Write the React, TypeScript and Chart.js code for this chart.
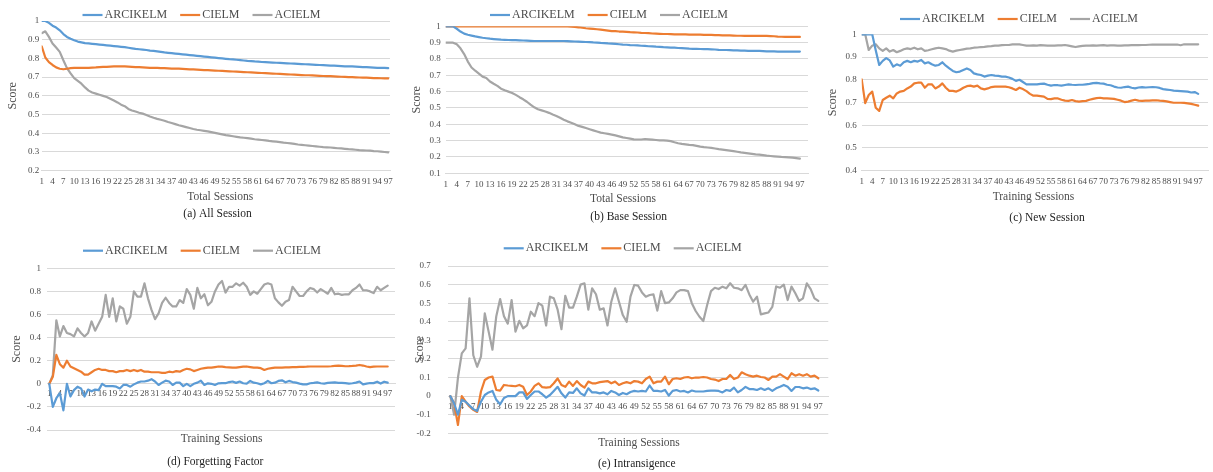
import { useEffect, useRef } from "react";
import { Chart, registerables } from "chart.js";

Chart.register(...registerables);

const FONT_FAMILY = '"Liberation Serif", "Times New Roman", serif';
const TEXT_COLOR = "#4D4D4D";
const CAPTION_COLOR = "#1F1F1F";
const GRID_COLOR = "#D9D9D9";

// Sessions on the x axis, and the ones that carry a label (every third).
const SESSIONS = Array.from({ length: 97 }, (_, i) => i + 1);
const SESSION_TICKS = [1, 4, 7, 10, 13, 16, 19, 22, 25, 28, 31, 34, 37, 40, 43, 46, 49, 52, 55, 58, 61, 64, 67, 70, 73, 76, 79, 82, 85, 88, 91, 94, 97];

const SERIES_NAMES = ["ARCIKELM", "CIELM", "ACIELM"];
const SERIES_COLORS = ["#5B9BD5", "#ED7D31", "#A5A5A5"];

// (a) All Session
const ALL_ARCIKELM = [1.0, 1.0, 0.99, 0.975, 0.965, 0.95, 0.93, 0.915, 0.905, 0.897, 0.89, 0.886, 0.882, 0.88, 0.878, 0.876, 0.874, 0.872, 0.87, 0.868, 0.866, 0.864, 0.862, 0.86, 0.857, 0.854, 0.851, 0.849, 0.847, 0.845, 0.842, 0.84, 0.838, 0.835, 0.832, 0.83, 0.828, 0.826, 0.824, 0.822, 0.82, 0.818, 0.816, 0.814, 0.812, 0.81, 0.808, 0.806, 0.804, 0.802, 0.8, 0.798, 0.796, 0.795, 0.793, 0.791, 0.789, 0.787, 0.786, 0.784, 0.783, 0.781, 0.78, 0.779, 0.778, 0.777, 0.776, 0.775, 0.774, 0.773, 0.772, 0.771, 0.77, 0.769, 0.768, 0.767, 0.766, 0.765, 0.764, 0.763, 0.762, 0.761, 0.76, 0.759, 0.758, 0.757, 0.757, 0.756, 0.755, 0.754, 0.753, 0.752, 0.751, 0.75, 0.749, 0.749, 0.748];
const ALL_CIELM = [0.865, 0.805, 0.78, 0.765, 0.752, 0.745, 0.742, 0.745, 0.748, 0.75, 0.75, 0.749, 0.75, 0.75, 0.751, 0.752, 0.754, 0.755, 0.755, 0.756, 0.757, 0.758, 0.758, 0.757, 0.756, 0.755, 0.754, 0.753, 0.752, 0.751, 0.75, 0.749, 0.749, 0.748, 0.748, 0.747, 0.746, 0.745, 0.745, 0.744, 0.743, 0.742, 0.741, 0.74, 0.739, 0.738, 0.737, 0.736, 0.735, 0.734, 0.733, 0.732, 0.731, 0.73, 0.729, 0.728, 0.727, 0.726, 0.725, 0.724, 0.723, 0.722, 0.721, 0.72, 0.719, 0.718, 0.717, 0.716, 0.715, 0.714, 0.713, 0.712, 0.711, 0.71, 0.71, 0.709, 0.708, 0.707, 0.706, 0.705, 0.705, 0.704, 0.703, 0.702, 0.701, 0.7, 0.7, 0.699, 0.698, 0.697, 0.697, 0.696, 0.695, 0.695, 0.694, 0.693, 0.693];
const ALL_ACIELM = [0.935, 0.945, 0.915, 0.88, 0.858, 0.835, 0.79, 0.748, 0.72, 0.695, 0.68, 0.665, 0.645, 0.628, 0.618, 0.612, 0.606, 0.6, 0.594, 0.585, 0.575, 0.565, 0.553, 0.545, 0.53, 0.522, 0.516, 0.51, 0.505, 0.498, 0.49, 0.483, 0.477, 0.472, 0.467, 0.46, 0.455, 0.449, 0.443, 0.438, 0.433, 0.428, 0.423, 0.419, 0.416, 0.413, 0.41, 0.406, 0.402, 0.398, 0.394, 0.39, 0.387, 0.384, 0.381, 0.378, 0.376, 0.374, 0.371, 0.368, 0.366, 0.364, 0.362, 0.359, 0.357, 0.355, 0.353, 0.35, 0.348, 0.346, 0.343, 0.34, 0.338, 0.336, 0.334, 0.332, 0.33, 0.328, 0.326, 0.325, 0.324, 0.322, 0.32, 0.319, 0.317, 0.315, 0.314, 0.312, 0.31, 0.309, 0.308, 0.307, 0.305, 0.304, 0.302, 0.3, 0.298];

// (b) Base Session
const BASE_ARCIKELM = [1.0, 1.0, 1.0, 0.985, 0.968, 0.955, 0.948, 0.943, 0.938, 0.934, 0.93, 0.927, 0.924, 0.922, 0.92, 0.918, 0.917, 0.916, 0.915, 0.915, 0.914, 0.913, 0.912, 0.911, 0.91, 0.91, 0.91, 0.91, 0.91, 0.91, 0.91, 0.91, 0.91, 0.909, 0.908, 0.907, 0.906, 0.905, 0.904, 0.903, 0.901, 0.9, 0.898, 0.897, 0.895, 0.894, 0.892, 0.89, 0.888, 0.887, 0.885, 0.884, 0.883, 0.881, 0.88, 0.878, 0.877, 0.875, 0.874, 0.872, 0.871, 0.87, 0.869, 0.867, 0.866, 0.865, 0.863, 0.862, 0.862, 0.861, 0.86, 0.86, 0.859, 0.858, 0.856, 0.855, 0.855, 0.854, 0.853, 0.852, 0.851, 0.851, 0.85, 0.85, 0.849, 0.849, 0.848, 0.847, 0.846, 0.846, 0.845, 0.845, 0.845, 0.845, 0.845, 0.845, 0.845];
const BASE_CIELM = [1.0, 1.0, 1.0, 1.0, 1.0, 1.0, 1.0, 1.0, 1.0, 1.0, 1.0, 1.0, 1.0, 1.0, 1.0, 1.0, 1.0, 1.0, 1.0, 1.0, 1.0, 1.0, 1.0, 1.0, 1.0, 1.0, 1.0, 1.0, 1.0, 1.0, 1.0, 1.0, 1.0, 1.0, 0.998, 0.996, 0.994, 0.991, 0.988, 0.986, 0.984, 0.982, 0.98, 0.977, 0.974, 0.971, 0.97, 0.968, 0.967, 0.966, 0.964, 0.963, 0.962, 0.96, 0.959, 0.958, 0.956, 0.955, 0.954, 0.953, 0.953, 0.952, 0.951, 0.951, 0.95, 0.95, 0.949, 0.949, 0.949, 0.949, 0.948, 0.948, 0.947, 0.946, 0.946, 0.945, 0.944, 0.944, 0.943, 0.942, 0.942, 0.941, 0.941, 0.941, 0.941, 0.941, 0.941, 0.941, 0.94, 0.939, 0.937, 0.936, 0.935, 0.935, 0.935, 0.935, 0.935];
const BASE_ACIELM = [0.9, 0.9, 0.9, 0.89, 0.865, 0.83, 0.784, 0.748, 0.728, 0.71, 0.692, 0.684, 0.662, 0.648, 0.635, 0.618, 0.608, 0.6, 0.592, 0.58, 0.566, 0.553, 0.538, 0.52, 0.504, 0.492, 0.485, 0.478, 0.47, 0.46, 0.451, 0.44, 0.428, 0.418, 0.41, 0.4, 0.39, 0.384, 0.377, 0.37, 0.363, 0.356, 0.349, 0.345, 0.341, 0.337, 0.332, 0.326, 0.32, 0.316, 0.312, 0.308, 0.307, 0.307, 0.31, 0.308, 0.306, 0.304, 0.302, 0.301, 0.3, 0.297, 0.29, 0.284, 0.28, 0.277, 0.274, 0.272, 0.268, 0.263, 0.26, 0.258, 0.256, 0.252, 0.248, 0.245, 0.242, 0.239, 0.236, 0.232, 0.228, 0.225, 0.222, 0.219, 0.216, 0.214, 0.211, 0.208, 0.206, 0.204, 0.202, 0.2, 0.199, 0.198, 0.196, 0.193, 0.19];

// (c) New Session
const NEW_ARCIKELM = [1.0, 1.0, 1.0, 1.0, 0.93, 0.865, 0.883, 0.895, 0.885, 0.858, 0.868, 0.862, 0.877, 0.883, 0.877, 0.883, 0.88, 0.887, 0.872, 0.877, 0.868, 0.862, 0.865, 0.877, 0.862, 0.85, 0.839, 0.833, 0.836, 0.843, 0.85, 0.843, 0.828, 0.824, 0.821, 0.814, 0.818, 0.821, 0.818, 0.817, 0.814, 0.814, 0.81, 0.804, 0.795, 0.8, 0.79, 0.78, 0.78, 0.78, 0.78, 0.782, 0.783, 0.778, 0.774, 0.777, 0.776, 0.774, 0.777, 0.78, 0.778, 0.777, 0.778, 0.778, 0.78, 0.782, 0.785, 0.786, 0.784, 0.783, 0.778, 0.776, 0.77, 0.766, 0.765, 0.768, 0.77, 0.765, 0.762, 0.766, 0.768, 0.766, 0.767, 0.768, 0.767, 0.764, 0.759, 0.757, 0.755, 0.752, 0.751, 0.75, 0.749, 0.748, 0.744, 0.746, 0.738];
const NEW_CIELM = [0.802, 0.697, 0.733, 0.748, 0.677, 0.663, 0.711, 0.721, 0.73, 0.718, 0.74, 0.748, 0.751, 0.762, 0.77, 0.784, 0.787, 0.787, 0.765, 0.78, 0.78, 0.762, 0.77, 0.784, 0.765, 0.751, 0.751, 0.748, 0.755, 0.765, 0.772, 0.774, 0.77, 0.774, 0.762, 0.758, 0.762, 0.768, 0.77, 0.77, 0.77, 0.77, 0.767, 0.762, 0.755, 0.765, 0.759, 0.75, 0.738, 0.73, 0.73, 0.728, 0.726, 0.716, 0.715, 0.718, 0.718, 0.712, 0.708, 0.707, 0.711, 0.706, 0.704, 0.706, 0.707, 0.712, 0.716, 0.719, 0.721, 0.718, 0.718, 0.717, 0.716, 0.712, 0.708, 0.702, 0.704, 0.708, 0.712, 0.708, 0.707, 0.708, 0.708, 0.709, 0.71, 0.708, 0.707, 0.705, 0.702, 0.699, 0.699, 0.699, 0.698, 0.696, 0.694, 0.69, 0.686];
const NEW_ACIELM = [1.0, 1.0, 0.931, 0.95, 0.956, 0.938, 0.927, 0.938, 0.924, 0.931, 0.921, 0.927, 0.934, 0.938, 0.935, 0.941, 0.934, 0.938, 0.927, 0.93, 0.934, 0.938, 0.941, 0.938, 0.935, 0.928, 0.924, 0.928, 0.931, 0.934, 0.937, 0.938, 0.941, 0.942, 0.944, 0.945, 0.947, 0.948, 0.95, 0.95, 0.952, 0.953, 0.953, 0.956, 0.956, 0.956, 0.953, 0.95, 0.95, 0.951, 0.95, 0.952, 0.951, 0.95, 0.95, 0.95, 0.951, 0.951, 0.953, 0.95, 0.947, 0.944, 0.947, 0.949, 0.95, 0.95, 0.951, 0.95, 0.951, 0.952, 0.95, 0.951, 0.951, 0.95, 0.95, 0.951, 0.951, 0.952, 0.952, 0.952, 0.953, 0.953, 0.954, 0.955, 0.955, 0.955, 0.955, 0.955, 0.955, 0.955, 0.955, 0.952, 0.956, 0.956, 0.956, 0.956, 0.956];

// (d) Forgetting Factor
const FORGET_ARCIKELM = [0, -0.2, -0.125, -0.08, -0.23, 0, -0.11, -0.055, -0.025, -0.04, -0.11, -0.05, -0.065, -0.05, -0.055, 0, -0.02, -0.02, -0.02, -0.025, -0.04, -0.01, -0.01, -0.025, -0.005, 0.01, 0.02, 0.02, 0.027, 0.04, 0.02, -0.01, 0.01, 0.027, 0.02, -0.01, 0.01, 0.01, -0.02, 0, -0.02, 0, 0.01, 0.027, -0.01, 0.004, 0, -0.01, 0.004, 0.005, 0.005, 0.015, 0.02, 0.008, 0.02, 0.005, 0.002, 0.025, 0.01, 0.005, -0.005, 0.005, 0.025, 0.005, 0.01, 0.025, 0.03, 0.013, 0.025, 0.015, 0.01, 0.002, -0.005, -0.005, 0.005, 0.008, 0.012, 0.005, 0.002, 0.008, 0.01, 0.012, 0.008, 0.008, 0.006, 0.002, 0.005, 0.01, 0.02, -0.005, 0.002, 0.007, 0.006, 0.018, 0.002, 0.018, 0.01];
const FORGET_CIELM = [0, 0.06, 0.25, 0.17, 0.14, 0.2, 0.15, 0.135, 0.12, 0.105, 0.08, 0.08, 0.1, 0.12, 0.13, 0.12, 0.12, 0.11, 0.11, 0.1, 0.11, 0.11, 0.12, 0.11, 0.12, 0.11, 0.12, 0.105, 0.105, 0.1, 0.1, 0.1, 0.095, 0.095, 0.105, 0.1, 0.11, 0.105, 0.12, 0.13, 0.125, 0.11, 0.12, 0.13, 0.135, 0.14, 0.14, 0.145, 0.15, 0.148, 0.145, 0.143, 0.14, 0.14, 0.145, 0.148, 0.15, 0.145, 0.14, 0.14, 0.135, 0.12, 0.13, 0.135, 0.14, 0.14, 0.14, 0.142, 0.143, 0.145, 0.145, 0.146, 0.147, 0.148, 0.15, 0.15, 0.15, 0.15, 0.15, 0.15, 0.152, 0.155, 0.157, 0.155, 0.152, 0.153, 0.155, 0.158, 0.163, 0.158, 0.15, 0.145, 0.148, 0.15, 0.15, 0.15, 0.15];
const FORGET_ACIELM = [0, 0.075, 0.55, 0.41, 0.5, 0.44, 0.43, 0.41, 0.48, 0.44, 0.41, 0.44, 0.54, 0.46, 0.52, 0.58, 0.77, 0.58, 0.74, 0.54, 0.67, 0.65, 0.52, 0.58, 0.8, 0.755, 0.755, 0.87, 0.74, 0.64, 0.56, 0.61, 0.7, 0.745, 0.7, 0.67, 0.67, 0.725, 0.7, 0.82, 0.77, 0.65, 0.83, 0.74, 0.775, 0.68, 0.71, 0.8, 0.86, 0.89, 0.79, 0.84, 0.84, 0.87, 0.85, 0.875, 0.84, 0.77, 0.8, 0.78, 0.82, 0.86, 0.87, 0.86, 0.74, 0.705, 0.675, 0.71, 0.725, 0.84, 0.8, 0.76, 0.76, 0.8, 0.83, 0.82, 0.79, 0.82, 0.8, 0.78, 0.83, 0.775, 0.78, 0.77, 0.775, 0.775, 0.81, 0.83, 0.86, 0.81, 0.81, 0.8, 0.785, 0.84, 0.81, 0.83, 0.85];

// (e) Intransigence
const INTRANS_ARCIKELM = [0, -0.04, -0.1, -0.02, -0.03, -0.05, -0.07, -0.08, -0.03, 0.006, 0.02, 0.028, -0.02, -0.044, -0.01, 0, 0, 0, 0.02, 0.02, -0.015, 0.006, 0.025, 0.025, 0.01, -0.008, 0.006, 0.028, 0.05, 0.015, -0.008, 0.02, 0.017, 0.042, 0.015, 0.003, 0.042, 0.02, 0.02, 0.015, 0.02, 0.01, 0.028, 0.02, 0.006, 0.017, 0.01, 0.022, 0.028, 0.025, 0.028, 0.025, 0.057, 0.028, 0.028, 0.025, 0.033, 0.003, 0.028, 0.033, 0.025, 0.028, 0.02, 0.03, 0.025, 0.025, 0.025, 0.028, 0.03, 0.03, 0.028, 0.02, 0.033, 0.028, 0.046, 0.02, 0.033, 0.05, 0.038, 0.038, 0.033, 0.042, 0.033, 0.042, 0.028, 0.042, 0.05, 0.06, 0.05, 0.028, 0.049, 0.049, 0.042, 0.046, 0.038, 0.042, 0.03];
const INTRANS_CIELM = [0, -0.04, -0.155, 0, -0.03, -0.056, -0.074, -0.085, 0.025, 0.087, 0.1, 0.105, 0.033, 0.03, 0.06, 0.057, 0.055, 0.053, 0.06, 0.05, 0.006, 0.025, 0.055, 0.069, 0.048, 0.046, 0.048, 0.069, 0.095, 0.06, 0.05, 0.078, 0.055, 0.081, 0.06, 0.046, 0.078, 0.069, 0.069, 0.075, 0.078, 0.081, 0.069, 0.078, 0.06, 0.069, 0.075, 0.069, 0.081, 0.078, 0.069, 0.092, 0.105, 0.069, 0.078, 0.078, 0.105, 0.064, 0.092, 0.096, 0.092, 0.1, 0.103, 0.096, 0.1, 0.1, 0.103, 0.1, 0.092, 0.089, 0.081, 0.092, 0.092, 0.114, 0.092, 0.1, 0.128, 0.118, 0.11, 0.105, 0.11, 0.103, 0.1, 0.087, 0.105, 0.105, 0.118, 0.105, 0.092, 0.123, 0.11, 0.118, 0.11, 0.118, 0.105, 0.11, 0.096];
const INTRANS_ACIELM = [0, -0.1, 0.1, 0.23, 0.257, 0.526, 0.22, 0.158, 0.212, 0.445, 0.347, 0.25, 0.43, 0.522, 0.43, 0.39, 0.517, 0.347, 0.405, 0.365, 0.38, 0.454, 0.43, 0.5, 0.487, 0.38, 0.535, 0.526, 0.465, 0.36, 0.54, 0.476, 0.476, 0.535, 0.6, 0.607, 0.465, 0.58, 0.548, 0.465, 0.472, 0.38, 0.508, 0.58, 0.508, 0.436, 0.4, 0.535, 0.598, 0.594, 0.558, 0.535, 0.544, 0.547, 0.46, 0.565, 0.5, 0.504, 0.526, 0.558, 0.57, 0.57, 0.565, 0.5, 0.458, 0.427, 0.404, 0.49, 0.565, 0.583, 0.576, 0.589, 0.58, 0.607, 0.583, 0.58, 0.57, 0.598, 0.547, 0.508, 0.535, 0.44, 0.445, 0.45, 0.48, 0.59, 0.583, 0.6, 0.517, 0.589, 0.553, 0.512, 0.526, 0.607, 0.576, 0.526, 0.512];

type Rect = { x: number; y: number; w: number; h: number };
type Area = { left: number; top: number; right: number; bottom: number };
type Label = { text: string; x: number; y: number };

type Panel = {
  key: string;
  series: number[][];
  box: Rect; // canvas placement on the page
  area: Area; // plot area on the page
  xMin: number;
  xMax: number;
  yMin: number;
  yMax: number;
  yStep: number;
  yTickPad: number;
  xTickPad: number;
  scoreX: number;
  zeroAxis: boolean;
  legend: { x: number; y: number };
  xTitle: Label;
  caption: Label;
};

const PANELS: Panel[] = [
  {
    key: "a",
    series: [ALL_ARCIKELM, ALL_CIELM, ALL_ACIELM],
    box: { x: 0, y: 0, w: 406, h: 230 },
    area: { left: 41.7, top: 21, right: 390, bottom: 170.7 },
    xMin: 1, xMax: 97.5, yMin: 0.2, yMax: 1, yStep: 0.1,
    yTickPad: 2.5, xTickPad: 5.6, scoreX: 12.7, zeroAxis: false,
    legend: { x: 201.5, y: 15 },
    xTitle: { text: "Total Sessions", x: 220.3, y: 197.3 },
    caption: { text: "(a) All Session", x: 217.5, y: 213.7 },
  },
  {
    key: "b",
    series: [BASE_ARCIKELM, BASE_CIELM, BASE_ACIELM],
    box: { x: 403, y: 0, w: 412, h: 230 },
    area: { left: 445.7, top: 26.3, right: 808, bottom: 173.3 },
    xMin: 1, xMax: 99.2, yMin: 0.1, yMax: 1, yStep: 0.1,
    yTickPad: 5, xTickPad: 5.6, scoreX: 417.3, zeroAxis: false,
    legend: { x: 609, y: 15 },
    xTitle: { text: "Total Sessions", x: 623, y: 199.3 },
    caption: { text: "(b) Base Session", x: 628.7, y: 216.7 },
  },
  {
    key: "c",
    series: [NEW_ARCIKELM, NEW_CIELM, NEW_ACIELM],
    box: { x: 810, y: 0, w: 403, h: 230 },
    area: { left: 861.7, top: 34.3, right: 1208, bottom: 170.7 },
    xMin: 1, xMax: 99.8, yMin: 0.4, yMax: 1, yStep: 0.1,
    yTickPad: 5, xTickPad: 5.6, scoreX: 832.7, zeroAxis: false,
    legend: { x: 1019, y: 19 },
    xTitle: { text: "Training Sessions", x: 1033.5, y: 197.3 },
    caption: { text: "(c) New Session", x: 1047, y: 218.3 },
  },
  {
    key: "d",
    series: [FORGET_ARCIKELM, FORGET_CIELM, FORGET_ACIELM],
    box: { x: 0, y: 230, w: 403, h: 242 },
    area: { left: 47, top: 268.3, right: 395, bottom: 430 },
    xMin: 0.35, xMax: 99.07, yMin: -0.4, yMax: 1, yStep: 0.2,
    yTickPad: 6, xTickPad: 4.8, scoreX: 16.7, zeroAxis: true,
    legend: { x: 202, y: 250.7 },
    xTitle: { text: "Training Sessions", x: 221.7, y: 439.3 },
    caption: { text: "(d) Forgetting Factor", x: 215.3, y: 461.7 },
  },
  {
    key: "e",
    series: [INTRANS_ARCIKELM, INTRANS_CIELM, INTRANS_ACIELM],
    box: { x: 403, y: 230, w: 430, h: 242 },
    area: { left: 448.3, top: 266, right: 828.3, bottom: 433.3 },
    xMin: 0.48, xMax: 99.6, yMin: -0.2, yMax: 0.7, yStep: 0.1,
    yTickPad: 17.5, xTickPad: 5.2, scoreX: 419.5, zeroAxis: true,
    legend: { x: 622.7, y: 248.3 },
    xTitle: { text: "Training Sessions", x: 639, y: 442.7 },
    caption: { text: "(e) Intransigence", x: 636.7, y: 464.3 },
  },
];

function font(size: number) {
  return `${size}px ${FONT_FAMILY}`;
}

function ScorePanel({ panel }: { panel: Panel }) {
  const ref = useRef<HTMLCanvasElement>(null);

  useEffect(() => {
    const canvas = ref.current;
    if (!canvas) return;
    const { box, area } = panel;
    const yAxisWidth = area.left - box.x;
    const xAxisHeight = panel.zeroAxis ? 0 : box.y + box.h - area.bottom;
    const bottomPad = panel.zeroAxis ? box.y + box.h - area.bottom : 0;
    const titleLine = 12 * 1.2;

    // Legend, x-axis title and caption, placed in page coordinates.
    const panelText = {
      id: "panelText",
      afterDraw(chart: any) {
        const ctx: CanvasRenderingContext2D = chart.ctx;
        ctx.save();
        ctx.textBaseline = "middle";
        ctx.font = font(12);
        const lineLen = 20;
        const gap = 2;
        const itemGap = 13;
        const widths = SERIES_NAMES.map((n) => ctx.measureText(n).width);
        const total =
          widths.reduce((s, w) => s + lineLen + gap + w, 0) + itemGap * (SERIES_NAMES.length - 1);
        let x = panel.legend.x - box.x - total / 2;
        const y = panel.legend.y - box.y;
        SERIES_NAMES.forEach((name, k) => {
          ctx.strokeStyle = SERIES_COLORS[k];
          ctx.lineWidth = 2.2;
          ctx.lineCap = "butt";
          ctx.beginPath();
          ctx.moveTo(x, y);
          ctx.lineTo(x + lineLen, y);
          ctx.stroke();
          x += lineLen + gap;
          ctx.fillStyle = TEXT_COLOR;
          ctx.textAlign = "left";
          ctx.fillText(name, x, y);
          x += widths[k] + itemGap;
        });
        ctx.textAlign = "center";
        ctx.fillStyle = TEXT_COLOR;
        ctx.font = font(11.5);
        ctx.fillText(panel.xTitle.text, panel.xTitle.x - box.x, panel.xTitle.y - box.y);
        ctx.fillStyle = CAPTION_COLOR;
        ctx.fillText(panel.caption.text, panel.caption.x - box.x, panel.caption.y - box.y);
        ctx.restore();
      },
    };

    const chart = new Chart(canvas, {
      type: "line",
      data: {
        datasets: panel.series.map((values, k) => ({
          label: SERIES_NAMES[k],
          data: values.map((v, i) => ({ x: SESSIONS[i], y: v })),
          borderColor: SERIES_COLORS[k],
          backgroundColor: SERIES_COLORS[k],
          borderWidth: 2.2,
          pointRadius: 0,
          pointHoverRadius: 0,
          tension: 0,
          borderJoinStyle: "round",
          borderCapStyle: "round",
        })),
      },
      options: {
        animation: false,
        responsive: false,
        maintainAspectRatio: false,
        devicePixelRatio: 1,
        events: [],
        layout: {
          padding: {
            left: 0,
            top: area.top - box.y,
            right: box.x + box.w - area.right,
            bottom: bottomPad,
          },
        },
        plugins: {
          legend: { display: false },
          tooltip: { enabled: false },
          title: { display: false },
        },
        scales: {
          x: {
            type: "linear",
            min: panel.xMin,
            max: panel.xMax,
            position: panel.zeroAxis ? { y: 0 } : "bottom",
            grid: { display: false, drawTicks: false },
            border: { display: true, color: GRID_COLOR, width: 1 },
            ticks: {
              autoSkip: false,
              maxRotation: 0,
              minRotation: 0,
              padding: panel.xTickPad,
              color: TEXT_COLOR,
              font: { family: FONT_FAMILY, size: 9 },
              callback: (v: any) => String(v),
            },
            afterBuildTicks: (scale: any) => {
              scale.ticks = SESSION_TICKS.map((v) => ({ value: v }));
            },
            afterFit: (scale: any) => {
              scale.height = xAxisHeight;
            },
          },
          y: {
            type: "linear",
            min: panel.yMin,
            max: panel.yMax,
            grid: { color: GRID_COLOR, lineWidth: 1, drawTicks: false },
            border: { display: false },
            ticks: {
              stepSize: panel.yStep,
              padding: panel.yTickPad,
              color: TEXT_COLOR,
              font: { family: FONT_FAMILY, size: 9 },
              callback: (v: any) => String(Math.round(Number(v) * 10) / 10),
            },
            title: {
              display: true,
              text: "Score",
              color: TEXT_COLOR,
              font: { family: FONT_FAMILY, size: 12 },
              padding: { top: panel.scoreX - box.x - titleLine / 2, bottom: 0 },
            },
            afterFit: (scale: any) => {
              scale.width = yAxisWidth;
            },
          },
        },
      } as any,
      plugins: [panelText],
    });

    return () => chart.destroy();
  }, [panel]);

  const { box } = panel;
  return (
    <canvas
      ref={ref}
      width={box.w}
      height={box.h}
      style={{ position: "absolute", left: box.x, top: box.y, width: box.w, height: box.h }}
    />
  );
}

export default function App() {
  return (
    <div
      style={{
        position: "absolute",
        left: 0,
        top: 0,
        width: 1213,
        height: 472,
        background: "#FFFFFF",
        overflow: "hidden",
      }}
    >
      {PANELS.map((p) => (
        <ScorePanel key={p.key} panel={p} />
      ))}
    </div>
  );
}
